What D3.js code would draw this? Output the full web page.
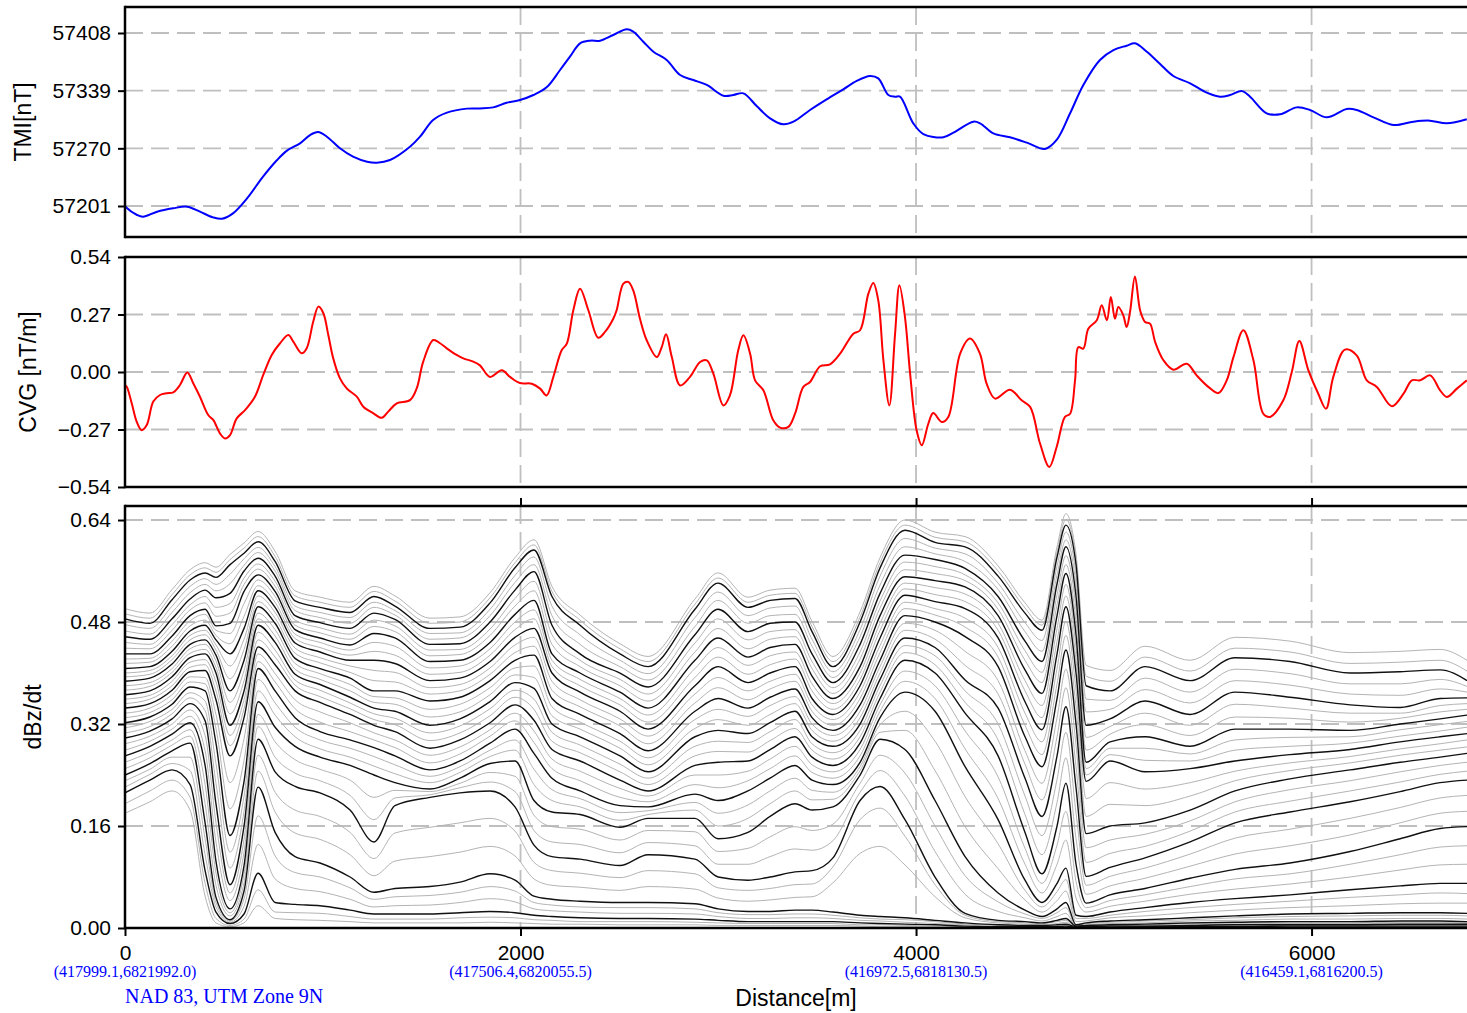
<!DOCTYPE html>
<html>
<head>
<meta charset="utf-8">
<script src="https://cdn.jsdelivr.net/npm/d3@7"></script>
<style>
  body { margin: 0; background: #fff; }
  svg { display: block; }
  .tick text { font-family: "Liberation Sans", Arial, sans-serif; font-size: 21px; fill: #000; }
</style>
</head>
<body>
<div id="chart"></div>
<script>

// ---------- TMI (top panel) ----------
var tmiDist = [0,5,61,91,162,243,314,379,445,491,546,617,698,769,819,885,936,976,1021,1087,
  1153,1224,1274,1340,1441,1492,1558,1628,1729,1795,1862,1930,1997,2065,2132,2200,2250,2301,2352,2402,
  2469,2537,2570,2621,2672,2739,2807,2874,2942,3026,3076,3127,3194,3262,3329,3380,3464,3548,3632,3700,
  3767,3809,3860,3894,3919,3986,4037,4138,4189,4290,4324,4391,4475,4560,4652,4711,4779,4846,4930,4998,
  5065,5107,5167,5234,5301,5386,5470,5537,5588,5647,5689,5773,5841,5925,5992,6077,6178,6228,6313,6414,
  6515,6599,6684,6785];
var tmiVal = [57201.0,57199.4,57190.2,57188.2,57194.2,57198.2,57200.2,57194.2,57187.4,57185.8,
  57192.2,57210.1,57236.1,57256.0,57267.2,57276.0,57285.9,57289.5,57283.9,57270.0,
  57260.0,57254.0,57252.8,57256.0,57271.9,57283.9,57303.9,57312.7,57317.5,57317.8,
  57319.0,57324.6,57327.8,57333.8,57343.0,57363.7,57379.7,57395.6,57398.8,57398.8,
  57405.6,57412.4,57409.6,57397.6,57385.6,57375.7,57357.7,57351.7,57345.8,57333.0,
  57333.8,57335.8,57320.6,57305.9,57298.7,57301.9,57315.9,57328.6,57340.6,57350.6,
  57356.5,57353.7,57333.8,57331.8,57331.8,57299.9,57287.1,57283.2,57288.7,57301.9,
  57299.9,57287.9,57283.2,57276.8,57269.2,57280.0,57311.9,57345.8,57375.7,57387.6,
  57392.8,57395.6,57385.6,57370.9,57356.5,57347.8,57336.6,57331.8,57333.8,57338.6,
  57331.8,57311.9,57310.7,57319.0,57315.9,57307.1,57317.1,57315.9,57307.1,57297.9,
  57301.9,57303.1,57299.9,57304.7];
var tmiTicks = [57201, 57270, 57339, 57408];

// ---------- CVG (middle panel) ----------
var cvgDist = [0,9,34,59,84,110,143,177,211,244,278,315,345,379,421,447,480,506,531,565,
  607,657,699,742,784,826,851,894,919,952,978,1003,1028,1053,1087,1121,1172,1205,1256,1298,
  1331,1374,1441,1475,1508,1559,1593,1627,1677,1711,1761,1795,1846,1905,1947,1997,2057,2099,2132,2166,
  2208,2234,2267,2301,2343,2393,2427,2469,2486,2520,2545,2570,2604,2638,2689,2714,2736,2765,2807,2857,
  2908,2942,2975,3026,3059,3101,3127,3161,3186,3228,3278,3312,3354,3388,3430,3464,3515,3565,3616,3683,
  3717,3759,3784,3809,3835,3865,3894,3916,3944,3970,4003,4029,4062,4087,4130,4163,4223,4273,4323,4357,
  4400,4475,4534,4577,4627,4674,4711,4753,4779,4804,4821,4846,4871,4914,4939,4965,4985,5006,5023,5048,
  5065,5082,5107,5133,5158,5183,5209,5251,5301,5369,5419,5478,5529,5571,5605,5655,5706,5756,5790,5857,
  5900,5938,5984,6034,6073,6110,6169,6228,6279,6330,6406,6465,6507,6549,6600,6650,6684,6735,6785];
var cvgVal = [-0.061,-0.069,-0.147,-0.233,-0.273,-0.249,-0.139,-0.108,-0.100,-0.096,
  -0.061,-0.002,-0.053,-0.116,-0.202,-0.226,-0.288,-0.312,-0.296,-0.218,
  -0.179,-0.116,-0.014,0.080,0.135,0.174,0.143,0.088,0.112,0.237,
  0.307,0.276,0.174,0.064,-0.030,-0.077,-0.116,-0.163,-0.194,-0.215,
  -0.186,-0.147,-0.132,-0.077,0.049,0.150,0.135,0.111,0.080,0.064,
  0.049,0.031,-0.023,0.008,-0.023,-0.052,-0.055,-0.078,-0.110,-0.023,
  0.102,0.133,0.290,0.391,0.290,0.161,0.188,0.250,0.290,0.415,
  0.423,0.383,0.250,0.149,0.070,0.117,0.177,0.070,-0.063,-0.023,
  0.047,0.055,-0.008,-0.157,-0.110,0.102,0.172,0.086,-0.039,-0.086,
  -0.227,-0.261,-0.258,-0.196,-0.070,-0.047,0.027,0.036,0.086,0.180,
  0.196,0.368,0.418,0.336,0.055,-0.157,0.180,0.407,0.258,-0.008,
  -0.274,-0.344,-0.243,-0.193,-0.235,-0.211,0.086,0.157,0.086,-0.055,
  -0.125,-0.083,-0.133,-0.164,-0.336,-0.446,-0.352,-0.211,-0.196,-0.039,
  0.117,0.110,0.203,0.243,0.313,0.243,0.352,0.250,0.305,0.266,
  0.211,0.282,0.449,0.290,0.235,0.227,0.141,0.055,0.011,0.039,
  -0.016,-0.070,-0.099,-0.039,0.070,0.196,0.055,-0.196,-0.211,-0.133,
  0.000,0.146,0.008,-0.102,-0.172,-0.023,0.105,0.078,-0.039,-0.070,
  -0.161,-0.102,-0.039,-0.039,-0.016,-0.086,-0.117,-0.078,-0.039];
var cvgTicks = [-0.54, -0.27, 0, 0.27, 0.54];

// ---------- dBz/dt (bottom panel), values in 1/1000 ----------
var dbzStations = [0,126,238,329,405,460,531,602,673,759,860,986,1138,1259,1365,1542,1694,1846,1972,2068,
  2159,2301,2503,2645,2882,2999,3150,3262,3388,3474,3580,3717,3818,3944,4096,4248,4415,4551,4637,4713,
  4758,4809,4860,4981,5158,5386,5613,5891,6195,6448,6650,6786];

// every third channel, drawn in black
var dbzBlack = [
  [485,478,515,546,557,550,570,588,606,575,513,503,495,520,505,470,472,510,565,593,520,475,430,410,500,541,503,514,517,465,410,480,565,624,605,598,552,494,467,582,632,570,380,372,410,388,424,418,400,402,405,388],
  [457,453,485,516,530,518,525,560,580,552,490,479,470,494,484,445,446,480,530,559,475,430,400,378,460,500,465,478,480,430,385,445,525,585,578,564,520,450,418,540,598,520,318,328,356,335,370,362,350,346,360,361],
  [430,430,458,490,500,474,478,528,554,528,468,455,444,462,455,418,420,448,492,514,430,400,370,345,420,455,425,440,445,395,360,410,490,551,545,535,490,405,368,490,556,460,260,292,300,285,312,312,310,320,328,334],
  [407,410,434,466,475,452,430,470,529,503,447,433,420,420,415,388,392,418,456,470,400,370,340,312,380,410,385,400,410,360,335,380,455,522,512,501,455,355,311,430,504,400,230,262,245,250,262,272,280,292,300,305],
  [387,392,414,445,452,428,372,420,504,478,423,407,392,372,372,356,362,388,420,428,360,335,305,278,340,360,345,362,375,330,310,350,420,490,480,457,410,300,253,360,436,320,148,160,165,185,215,234,248,260,268,274],
  [366,372,394,424,430,400,318,372,475,448,398,382,362,345,340,318,328,355,385,376,320,300,270,245,300,310,305,322,340,300,285,320,390,455,440,389,345,235,175,270,347,220,81,95,110,135,165,182,198,214,228,232],
  [345,352,373,402,404,358,270,330,441,413,372,354,335,318,308,282,295,322,350,326,280,262,232,215,255,260,262,280,300,268,255,290,360,420,400,337,270,150,85,160,227,100,39,52,62,78,92,102,120,140,156,159],
  [322,331,351,378,372,290,145,230,407,372,330,308,295,283,270,248,262,290,312,274,235,215,192,190,210,200,215,235,255,232,225,260,330,370,340,253,170,75,40,70,94,20,18,25,32,40,46,52,60,66,70,70],
  [298,309,328,352,325,195,68,160,355,315,285,268,255,240,228,218,235,258,262,200,182,178,158,172,172,140,150,175,195,185,190,240,296,280,200,112,55,28,18,30,40,5,8,11,13,16,19,22,23,24,24,23],
  [270,285,304,322,255,105,30,98,296,245,222,212,185,135,192,205,212,215,190,130,112,108,98,115,108,80,75,80,88,90,110,200,222,170,80,23,12,10,8,12,15,3,4,5,6,8,9,10,10,11,11,10],
  [240,258,278,290,165,48,13,58,221,150,112,102,80,56,62,65,72,85,75,50,45,42,40,40,38,30,26,26,28,28,25,20,18,16,12,8,5,4,4,5,6,2,2,3,3,4,5,5,5,6,6,6],
  [212,232,248,225,90,25,7,22,86,40,37,35,28,22,22,22,24,26,24,20,18,16,15,15,14,12,10,10,10,10,10,8,7,6,5,3,2,2,2,2,3,1,1,1,2,2,2,3,3,3,3,3]
];

// the channels in between, drawn in light grey
var dbzGrey = [
  [501,494,531,562,573,566,586,604,622,591,529,519,511,536,521,486,488,526,581,609,536,491,446,426,516,557,519,530,533,481,426,496,581,640,621,614,568,510,483,598,650,586,412,404,442,420,456,450,432,434,437,420],
  [493,486,523,554,565,558,578,596,614,583,521,511,503,528,513,478,480,518,573,601,528,483,438,418,508,549,511,522,525,473,418,488,573,632,613,606,560,502,475,590,641,578,395,387,425,403,439,433,415,417,420,403],
  [476,470,505,536,548,539,555,579,597,567,505,495,487,511,498,462,463,500,553,582,505,460,420,399,487,527,490,502,505,453,402,468,552,611,596,587,541,479,451,568,621,553,359,357,392,370,406,399,383,383,390,379],
  [466,461,495,526,539,529,540,569,589,560,498,487,478,503,491,453,455,490,542,570,490,445,410,389,473,514,478,490,492,442,393,457,538,598,587,575,531,465,434,554,609,537,339,343,374,353,388,381,367,365,375,370],
  [448,445,476,507,520,503,509,549,571,544,483,471,461,483,474,436,437,469,517,544,460,420,390,367,447,485,452,465,468,418,377,433,513,574,567,554,510,435,401,523,584,500,299,316,337,318,351,345,337,337,349,352],
  [439,438,467,499,510,489,494,539,563,536,475,463,453,473,465,427,429,459,505,529,445,410,380,356,433,470,438,453,457,407,368,422,502,562,556,545,500,420,385,507,570,480,279,304,319,302,331,329,323,329,339,343],
  [422,423,450,482,492,467,462,509,546,520,461,448,436,448,442,408,411,438,480,499,420,390,360,334,407,440,412,427,433,383,352,400,478,541,534,524,478,388,349,470,539,440,250,282,282,273,295,299,300,311,319,324],
  [415,417,442,474,483,459,446,489,537,511,454,440,428,434,428,398,401,428,468,485,410,380,350,323,393,425,398,413,422,372,343,390,467,532,523,512,467,372,330,450,521,420,240,272,263,262,279,285,290,301,309,315],
  [400,404,427,459,467,444,411,453,521,495,439,424,411,404,401,377,382,408,444,456,387,358,328,301,367,393,372,387,398,350,327,370,443,511,501,486,440,337,292,407,481,373,203,228,218,228,246,259,269,281,289,295],
  [394,398,421,452,460,436,391,437,512,486,431,416,401,388,386,367,372,398,432,442,373,347,317,289,353,377,358,375,387,340,318,360,432,501,491,472,425,318,272,383,459,347,175,194,192,207,231,247,259,271,279,284],
  [380,385,407,438,445,419,354,404,494,468,415,399,382,363,361,343,351,377,408,411,347,323,293,267,327,343,332,349,363,320,302,340,410,478,467,434,388,278,227,330,406,287,126,138,147,168,198,217,231,245,255,260],
  [373,379,401,431,437,409,336,388,485,458,406,390,372,354,351,331,339,366,397,393,333,312,282,256,313,327,318,335,352,310,293,330,400,467,453,412,367,257,201,300,377,253,103,117,128,152,182,199,215,229,241,246],
  [359,365,387,417,421,386,302,358,464,436,389,373,353,336,329,306,317,344,373,359,307,287,257,235,285,293,291,308,327,289,275,310,380,443,427,372,320,207,145,233,307,180,67,81,94,116,141,155,172,189,204,208],
  [352,359,380,409,413,372,286,344,452,425,381,363,344,327,319,294,306,333,362,343,293,275,245,225,270,277,276,294,313,279,265,300,370,432,413,354,295,178,115,197,267,140,53,66,78,97,116,129,146,165,180,183],
  [337,345,366,394,393,335,228,297,430,399,358,339,322,306,295,271,284,311,337,309,265,246,219,207,240,240,246,265,285,256,245,280,350,403,380,309,237,125,70,130,183,73,32,43,52,65,77,85,100,115,127,129],
  [330,338,358,386,383,313,187,263,418,386,344,323,308,295,283,259,273,301,325,291,250,231,205,198,225,220,231,250,270,244,235,270,340,387,360,281,203,100,55,100,138,47,25,34,42,53,61,69,80,91,99,100],
  [314,324,343,369,356,258,119,207,390,353,315,295,282,269,256,238,253,279,295,249,217,203,181,184,197,180,193,215,235,216,213,253,319,340,293,206,132,59,33,57,76,15,15,20,26,32,37,42,48,52,55,54],
  [306,316,336,361,341,227,94,183,372,334,300,281,268,254,242,228,244,269,279,225,200,190,169,178,185,160,172,195,215,201,202,247,307,310,247,159,93,44,25,43,58,10,11,16,19,24,28,32,35,38,39,39],
  [289,301,320,342,302,165,55,139,335,292,264,249,232,205,216,214,227,244,238,177,159,155,138,153,151,120,125,143,159,153,163,227,271,243,160,82,41,22,15,24,32,4,7,9,11,13,16,18,19,20,20,19],
  [279,293,312,332,278,135,43,119,316,268,243,231,208,170,204,209,220,229,214,153,135,131,118,134,129,100,100,112,124,122,137,213,247,207,120,53,26,16,11,18,23,3,5,7,8,11,12,14,14,15,15,14],
  [260,276,295,311,225,86,24,85,271,213,185,175,150,109,149,158,165,172,152,103,90,86,79,90,85,63,59,62,68,69,96,170,188,144,68,20,10,8,7,10,12,3,3,4,5,7,8,8,8,9,9,9],
  [250,267,287,301,195,67,19,71,246,182,149,139,115,82,105,112,119,128,113,77,67,64,59,65,61,47,42,44,48,49,71,117,128,99,49,16,8,6,5,7,9,2,3,4,4,5,6,7,7,8,8,7],
  [231,249,268,268,140,40,11,46,176,113,87,80,63,45,49,51,56,65,58,40,36,33,32,32,30,24,21,21,22,22,20,16,14,13,10,6,4,3,3,4,5,2,2,2,3,3,4,4,4,5,5,5],
  [221,241,258,247,115,33,9,34,131,77,62,57,45,33,35,36,40,46,41,30,27,25,23,23,22,18,15,15,16,16,15,12,11,9,7,5,3,3,3,3,4,1,1,2,2,3,3,4,4,4,4,4],
  [195,215,232,205,70,15,4,14,60,25,24,23,18,14,14,14,16,17,16,13,12,10,10,10,9,8,7,7,7,7,7,5,5,4,3,2,1,1,1,1,2,1,1,1,1,1,1,2,2,2,2,2],
  [180,198,215,185,50,8,2,8,35,15,13,12,10,8,8,8,8,9,8,7,6,6,5,5,5,4,4,4,4,4,4,3,2,2,2,1,1,1,1,1,1,0,0,0,1,1,1,1,1,1,1,1]
];
var dbzTicks = [0, 0.16, 0.32, 0.48, 0.64];

// ---------- x axis ----------
var distTicks = [0, 2000, 4000, 6000];
var utmLabels = ["(417999.1,6821992.0)", "(417506.4,6820055.5)", "(416972.5,6818130.5)", "(416459.1,6816200.5)"];

var W = 1467, H = 1013;
var plotLeft = 125, plotRight = 1467;
var sans = "'Liberation Sans', Arial, sans-serif";
var serif = "'Liberation Serif', 'Times New Roman', serif";

var svg = d3.select("#chart").append("svg")
    .attr("width", W)
    .attr("height", H);

var x = d3.scaleLinear().domain([0, 6786]).range([plotLeft, plotRight]);

var panels = [
    {id: "tmi", top: 7, bottom: 237, domain: [57163.9, 57439.1], ticks: tmiTicks,
     fmt: d3.format("d"), title: "TMI[nT]", titleX: 31},
    {id: "cvg", top: 257, bottom: 487, domain: [-0.54, 0.54], ticks: cvgTicks,
     fmt: d3.format(".2f"), title: "CVG [nT/m]", titleX: 36},
    {id: "dbz", top: 506, bottom: 928, domain: [0, 0.662], ticks: dbzTicks,
     fmt: d3.format(".2f"), title: "dBz/dt", titleX: 41}
];

panels.forEach(function(p) {
    p.y = d3.scaleLinear().domain(p.domain).range([p.bottom, p.top]);

    svg.append("clipPath").attr("id", "clip-" + p.id)
      .append("rect")
        .attr("x", plotLeft).attr("y", p.top)
        .attr("width", plotRight - plotLeft).attr("height", p.bottom - p.top);

    // dashed grid
    var grid = svg.append("g").attr("class", "grid")
        .attr("stroke", "#bfbfbf").attr("stroke-width", 1.8)
        .attr("stroke-dasharray", "18,8");
    grid.selectAll("line.h").data(p.ticks).enter().append("line")
        .attr("x1", plotLeft).attr("x2", plotRight)
        .attr("y1", function(d) { return p.y(d); })
        .attr("y2", function(d) { return p.y(d); });
    grid.selectAll("line.v").data(distTicks.slice(1)).enter().append("line")
        .attr("x1", function(d) { return x(d); })
        .attr("x2", function(d) { return x(d); })
        .attr("y1", p.top).attr("y2", p.bottom);
});

var tmiP = panels[0], cvgP = panels[1], dbzP = panels[2];

// TMI line
var tmiLine = d3.line()
    .x(function(d, i) { return x(tmiDist[i]); })
    .y(function(d) { return tmiP.y(d); })
    .curve(d3.curveCatmullRom.alpha(0.5));
svg.append("path")
    .attr("clip-path", "url(#clip-tmi)")
    .attr("d", tmiLine(tmiVal))
    .attr("fill", "none").attr("stroke", "#0000ff").attr("stroke-width", 2);

// CVG line
var cvgLine = d3.line()
    .x(function(d, i) { return x(cvgDist[i]); })
    .y(function(d) { return cvgP.y(d); })
    .curve(d3.curveCatmullRom.alpha(0.5));
svg.append("path")
    .attr("clip-path", "url(#clip-cvg)")
    .attr("d", cvgLine(cvgVal))
    .attr("fill", "none").attr("stroke", "#ff0000").attr("stroke-width", 2);

// dBz/dt channels: grey first, black on top
var dbzLine = d3.line()
    .x(function(d, i) { return x(dbzStations[i]); })
    .y(function(d) { return dbzP.y(d / 1000); })
    .curve(d3.curveMonotoneX);
var dbzG = svg.append("g").attr("clip-path", "url(#clip-dbz)").attr("fill", "none");
dbzG.selectAll("path.grey").data(dbzGrey).enter().append("path")
    .attr("class", "grey")
    .attr("d", dbzLine)
    .attr("stroke", "#b4b4b4").attr("stroke-width", 1);
dbzG.selectAll("path.black").data(dbzBlack).enter().append("path")
    .attr("class", "black")
    .attr("d", dbzLine)
    .attr("stroke", "#111").attr("stroke-width", 1.4);

// frames, y axes and titles
panels.forEach(function(p) {
    var frame = svg.append("g").attr("stroke", "#000").attr("stroke-width", 2.5);
    frame.append("line").attr("x1", plotLeft).attr("x2", plotRight).attr("y1", p.top).attr("y2", p.top);
    frame.append("line").attr("x1", plotLeft).attr("x2", plotRight).attr("y1", p.bottom).attr("y2", p.bottom);
    frame.append("line").attr("x1", plotLeft).attr("x2", plotLeft).attr("y1", p.top - 1.2).attr("y2", p.bottom + 1.2);

    var ax = svg.append("g")
        .attr("transform", "translate(" + plotLeft + ",0)")
        .call(d3.axisLeft(p.y).tickValues(p.ticks).tickSize(7).tickPadding(7).tickFormat(p.fmt));
    ax.select(".domain").remove();
    ax.selectAll(".tick line").attr("stroke", "#000").attr("stroke-width", 2);

    svg.append("text")
        .attr("transform", "translate(" + p.titleX + "," + ((p.top + p.bottom) / 2) + ") rotate(-90)")
        .attr("text-anchor", "middle")
        .style("font-family", sans).style("font-size", "23px")
        .text(p.title);
});

// x axis at the bottom of the lowest panel
var xAx = svg.append("g")
    .attr("transform", "translate(0," + dbzP.bottom + ")")
    .call(d3.axisBottom(x).tickValues(distTicks).tickSize(8).tickPadding(9).tickFormat(d3.format("d")));
xAx.select(".domain").remove();
xAx.selectAll(".tick line").attr("stroke", "#000").attr("stroke-width", 2);

// ticks pointing up from the top of the lowest panel
var xTop = svg.append("g")
    .attr("transform", "translate(0," + dbzP.top + ")")
    .call(d3.axisTop(x).tickValues(distTicks.slice(1)).tickSize(8).tickFormat(""));
xTop.select(".domain").remove();
xTop.selectAll(".tick line").attr("stroke", "#000").attr("stroke-width", 2);

// UTM coordinates under the distance ticks
svg.selectAll("text.utm").data(utmLabels).enter().append("text")
    .attr("class", "utm")
    .attr("x", function(d, i) { return x(distTicks[i]); })
    .attr("y", 977)
    .attr("text-anchor", "middle")
    .attr("fill", "#0000ff")
    .style("font-family", serif).style("font-size", "16px")
    .text(function(d) { return d; });

svg.append("text")
    .attr("x", plotLeft).attr("y", 1003)
    .attr("fill", "#0000ff")
    .style("font-family", serif).style("font-size", "20px")
    .text("NAD 83, UTM Zone 9N");

svg.append("text")
    .attr("x", (plotLeft + plotRight) / 2).attr("y", 1006)
    .attr("text-anchor", "middle")
    .style("font-family", sans).style("font-size", "23px")
    .text("Distance[m]");

</script>
</body>
</html>
